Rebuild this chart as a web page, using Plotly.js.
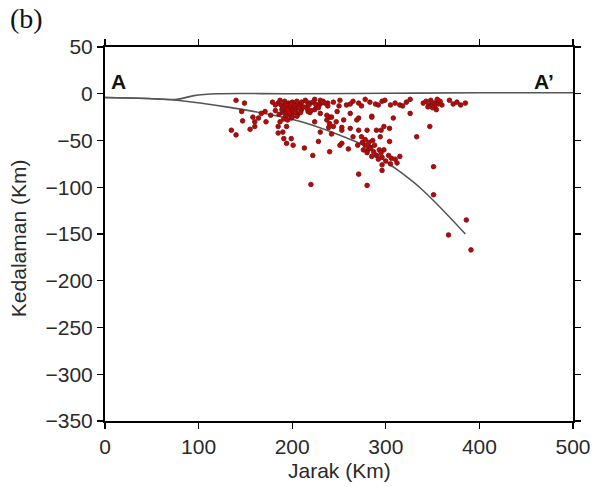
<!DOCTYPE html>
<html>
<head>
<meta charset="utf-8">
<script src="https://cdn.plot.ly/plotly-3.0.1.min.js"></script>
<style>html,body{margin:0;padding:0;background:#fff;}#chart{width:594px;height:487px;}</style>
</head>
<body>
<div id="chart"></div>
<script>
// Surface (topography) line
var surfX = [0, 45, 77, 95, 120, 200, 300, 400, 500];
var surfY = [-4, -5, -6, -2, 0, 0, 0.5, 1, 1];
// Slab line
var slabX = [0, 45, 77, 133, 180, 210, 255, 280, 301, 336, 385];
var slabY = [-4, -5, -7, -14.6, -23, -30, -46, -57, -73, -100, -150];

// Earthquake hypocentres: distance (km)
var quakeX = [
  140,149,146,147,135,140,158,160,155,160,164,172,171,167,177,182,
  185,190,185,191,194,201,199,194,187,213,222,220,230,228,240,242,239,253,251,260,271,240,247,219,224,237,
  280,253,283,296,296,306,315,304,298,290,269,274,265,294,326,308,354,347,333,351,351,386,367,391,285,
  275,278,281,284,287,280,290,292,296,300,303,310,312,288,286,293,298,270,276,285,295,305,282,278,
  280,271,262,253,244,240,210,217,224,230,237,242,248,285,271,262,255,295,304,
  214,219,224,230,233,244,251,258,265,271,278,283,289,296,299,310,315,322,326,
  217,228,238,250,262,274,292,305,318,
  340,343,346,348,350,352,354,356,358,360,355,345,350,368,372,376,380,385,
  185,188,190,192,194,196,198,200,202,204,206,208,190,193,196,199,202,205,195,197,199,201,203,192,194,196,198,200,189,187,210,212,182,179,186,191,195,200,205,209,
  197,199,193,201,203,195,198,204,207,191,
  196,198,200,194,192,202,197,199,201,195,193,203,
  215,218,222,226,230,235,238,216,220,225,232,228
];
// Earthquake hypocentres: depth (km)
var quakeY = [
  -7,-10,-19,-29,-39,-44,-25,-30,-38,-35,-26,-30,-19,-21,-23,-18,
  -35,-41,-42,-48,-53,-55,-48,-35,-30,-58,-66,-97,-41,-51,-62,-43,-36,-36,-55,-59,-86,-25,-30,-20,-30,-28,
  -98,-53,-57,-82,-76,-69,-67,-51,-35,-39,-28,-46,-46,-46,-21,-26,-17,-35,-46,-78,-108,-135,-151,-167,-24,
  -52,-55,-60,-58,-62,-63,-66,-70,-68,-72,-66,-70,-74,-55,-50,-60,-60,-55,-60,-67,-63,-75,-52,-49,
  -39,-39,-37,-39,-35,-32,-17,-19,-17,-21,-23,-25,-19,-25,-26,-21,-28,-39,-37,
  -7,-10,-6,-11,-8,-9,-7,-12,-8,-10,-6,-9,-11,-8,-7,-10,-12,-9,-6,
  -12,-13,-10,-13,-11,-13,-12,-12,-13,
  -10,-8,-12,-7,-10,-13,-9,-11,-8,-12,-6,-14,-15,-7,-11,-9,-12,-10,
  -10,-12,-14,-8,-16,-18,-12,-20,-10,-15,-22,-12,-20,-24,-10,-16,-18,-8,-14,-22,-26,-13,-17,-11,-19,-13,-15,-9,-17,-7,-9,-14,-12,-9,-22,-27,-28,-25,-24,-20,
  -12,-16,-14,-11,-13,-18,-20,-17,-15,-16,
  -13,-15,-17,-19,-15,-13,-21,-11,-19,-17,-12,-20,
  -8,-12,-9,-14,-7,-10,-13,-16,-18,-11,-9,-15
];

var xTicks = [0, 100, 200, 300, 400, 500];
var yTicks = [50, 0, -50, -100, -150, -200, -250, -300, -350];

var FONT = 'Liberation Sans, Arial, sans-serif';
var TXT = '#2a2a2a';

var traces = [
  {x: surfX, y: surfY, type: 'scatter', mode: 'lines', line: {color: '#555555', width: 1.6, shape: 'spline'}, hoverinfo: 'skip'},
  {x: slabX, y: slabY, type: 'scatter', mode: 'lines', line: {color: '#555555', width: 1.6, shape: 'spline'}, hoverinfo: 'skip'},
  {x: quakeX, y: quakeY, type: 'scatter', mode: 'markers',
   marker: {size: 4.6, color: '#cc0000', line: {color: '#6a1a1a', width: 0.9}}}
];

var layout = {
  width: 594, height: 487,
  margin: {l: 105, r: 21, t: 47, b: 66},
  paper_bgcolor: '#ffffff', plot_bgcolor: '#ffffff',
  showlegend: false,
  font: {family: FONT, size: 21, color: TXT},
  xaxis: {
    range: [0, 500], tickvals: xTicks, ticktext: xTicks.map(String),
    showgrid: false, zeroline: false, showline: true, linecolor: '#000', linewidth: 2,
    mirror: 'ticks', ticks: 'outside', ticklen: 6, tickwidth: 1.2, tickcolor: '#000',
    tickfont: {family: FONT, size: 21, color: TXT}
  },
  yaxis: {
    range: [-350, 50], tickvals: yTicks,
    showgrid: false, zeroline: false, showline: true, linecolor: '#000', linewidth: 2,
    mirror: 'ticks', ticks: 'outside', ticklen: 6, tickwidth: 1.2, tickcolor: '#000',
    tickfont: {family: FONT, size: 21, color: TXT}
  },
  annotations: [
    {text: '(b)', xref: 'paper', yref: 'paper', x: -0.207, y: 1.122, xanchor: 'left', yanchor: 'top',
     showarrow: false, font: {family: 'Liberation Serif, Times New Roman, serif', size: 28, color: '#111'}},
    {text: '<b>A</b>', xref: 'x', yref: 'y', x: 4, y: 13, xanchor: 'left', yanchor: 'middle',
     showarrow: false, font: {family: FONT, size: 21, color: '#111'}},
    {text: '<b>A\u2019</b>', xref: 'x', yref: 'y', x: 456, y: 13, xanchor: 'left', yanchor: 'middle',
     showarrow: false, font: {family: FONT, size: 21, color: '#111'}},
    {text: 'Jarak (Km)', xref: 'paper', yref: 'paper', x: 0.5, y: -0.132, xanchor: 'center', yanchor: 'middle',
     showarrow: false, font: {family: FONT, size: 21, color: TXT}},
    {text: 'Kedalaman (Km)', xref: 'paper', yref: 'paper', x: -0.185, y: 0.49, xanchor: 'center', yanchor: 'middle',
     textangle: -90, showarrow: false, font: {family: FONT, size: 21, color: TXT}}
  ]
};

Plotly.newPlot('chart', traces, layout, {displayModeBar: false, staticPlot: true});
</script>
</body>
</html>
